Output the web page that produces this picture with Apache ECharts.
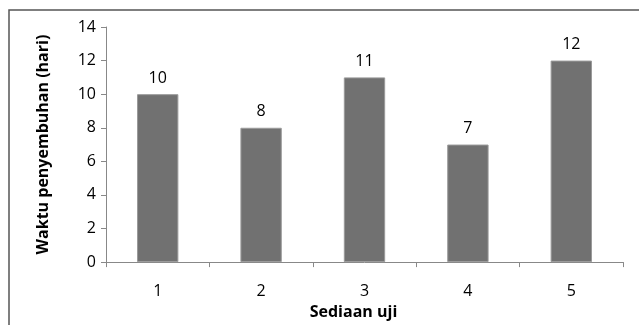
<!DOCTYPE html>
<html>
<head>
<meta charset="utf-8">
<script src="https://cdn.jsdelivr.net/npm/echarts@6/dist/echarts.min.js"></script>
<style>
  html, body { margin: 0; padding: 0; background: #fff; }
  #chart { width: 639px; height: 325px; }
</style>
</head>
<body>
<div id="chart"></div>
<script>
// Healing time per test preparation
const categories = ['1', '2', '3', '4', '5'];
const healingDays = [10, 8, 11, 7, 12];
const yTicks = { min: 0, max: 14, interval: 2 };

const chart = echarts.init(document.getElementById('chart'), null, { renderer: 'canvas' });
const FONT = '"Open Sans", "Liberation Sans", sans-serif';

chart.setOption({
  animation: false,
  backgroundColor: '#ffffff',
  graphic: [{
    type: 'rect',
    shape: { x: 9, y: 10, width: 700, height: 400 },
    style: { fill: 'none', stroke: '#555555', lineWidth: 1.5 },
    silent: true,
    z: -1
  }],
  grid: { left: 106, right: 16, top: 27, bottom: 60 },
  xAxis: {
    type: 'category',
    data: categories,
    name: 'Sediaan uji',
    nameLocation: 'middle',
    nameGap: 41,
    nameTextStyle: { fontFamily: FONT, fontSize: 16, fontWeight: 'bold', color: '#000', padding: [0, 22, 0, 0] },
    axisLine: { lineStyle: { color: '#888888', width: 1 } },
    axisTick: { show: true, length: 5, lineStyle: { color: '#888888' } },
    axisLabel: { fontFamily: FONT, fontSize: 16, color: '#000', margin: 21 }
  },
  yAxis: {
    type: 'value',
    min: yTicks.min,
    max: yTicks.max,
    interval: yTicks.interval,
    name: 'Waktu penyembuhan (hari)',
    nameLocation: 'middle',
    nameGap: 55,
    nameTextStyle: { fontFamily: FONT, fontSize: 16, fontWeight: 'bold', color: '#000' },
    axisLine: { show: true, lineStyle: { color: '#888888', width: 1 } },
    axisTick: { show: true, length: 5, lineStyle: { color: '#888888' } },
    splitLine: { show: false },
    axisLabel: { fontFamily: FONT, fontSize: 16, color: '#000', margin: 10 }
  },
  series: [{
    type: 'bar',
    data: healingDays,
    barWidth: '40%',
    itemStyle: { color: '#717171', borderColor: '#9a9a9a', borderWidth: 1 },
    label: {
      show: true,
      position: 'top',
      distance: 8,
      fontFamily: FONT,
      fontSize: 16,
      color: '#000'
    }
  }]
});
</script>
</body>
</html>
